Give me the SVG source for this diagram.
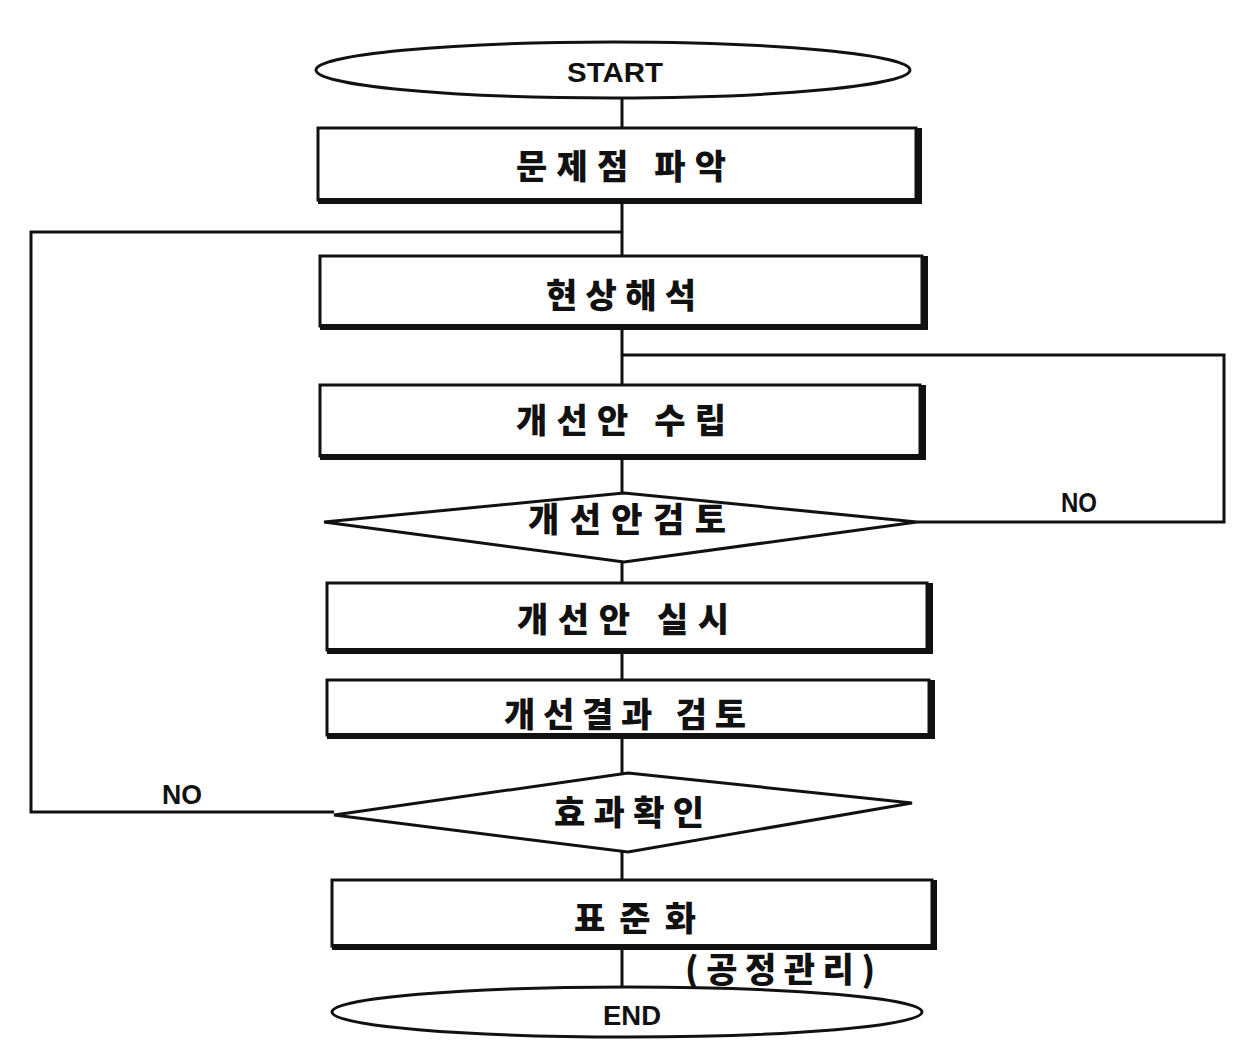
<svg xmlns="http://www.w3.org/2000/svg" width="1233" height="1041" viewBox="0 0 1233 1041">
<style>
.ln{fill:none;stroke:#111;stroke-width:3}
.box{fill:#fff;stroke:#111;stroke-width:3}
.sh{fill:none;stroke:#111;stroke-width:6}
.t{font-family:"Noto Sans CJK KR","Noto Sans",sans-serif;font-weight:900;font-size:34px;fill:#111;text-anchor:middle;dominant-baseline:central}
.e{font-family:"Liberation Sans",Arial,sans-serif;font-weight:bold;font-size:28px;fill:#111;text-anchor:middle;dominant-baseline:central}
</style>
<rect width="1233" height="1041" fill="#fff"/>
<g id="connectors">
<path class="ln" d="M622 98V128M622 200V258M622 328V385M622 460V493M622 562V583M622 652V680M622 737V773M622 852V880M622 948V987"/>
<path class="ln" d="M622 232H31V812H334"/>
<path class="ln" d="M622 355H1224V522H917"/>
</g>
<g id="start"><ellipse class="box" cx="613" cy="70" rx="297" ry="28"/><text class="e" x="615" y="72" textLength="96" lengthAdjust="spacingAndGlyphs">START</text></g>
<g id="n1"><rect class="box" x="318" y="128" width="598" height="72"/><path class="sh" d="M318 201H919V128"/><text class="t" x="621" y="164" textLength="210" lengthAdjust="spacing">문제점 파악</text></g>
<g id="n2"><rect class="box" x="320" y="256" width="602" height="70"/><path class="sh" d="M320 327H925V256"/><text class="t" x="621" y="293" textLength="150" lengthAdjust="spacing">현상해석</text></g>
<g id="n3"><rect class="box" x="320" y="385" width="600" height="71"/><path class="sh" d="M320 457H923V385"/><text class="t" x="621" y="418" textLength="210" lengthAdjust="spacing">개선안 수립</text></g>
<g id="d1"><polygon class="box" points="624,493 917,522 624,562 324,522"/><text class="t" x="627" y="517" textLength="198" lengthAdjust="spacing">개선안검토</text></g>
<g id="n4"><rect class="box" x="327" y="583" width="600" height="67"/><path class="sh" d="M327 651H930V583"/><text class="t" x="623" y="617" textLength="212" lengthAdjust="spacing">개선안 실시</text></g>
<g id="n5"><rect class="box" x="327" y="680" width="602" height="55"/><path class="sh" d="M327 736H932V680"/><text class="t" x="625" y="712" textLength="242" lengthAdjust="spacing">개선결과 검토</text></g>
<g id="d2"><polygon class="box" points="628,773 912,803 628,852 334,815"/><text class="t" x="629" y="810" textLength="150" lengthAdjust="spacing">효과확인</text></g>
<g id="n6"><rect class="box" x="332" y="880" width="600" height="66"/><path class="sh" d="M332 947H934V880"/><text class="t" x="635" y="916" textLength="122" lengthAdjust="spacing">표준화</text></g>
<g id="end"><ellipse class="box" cx="627" cy="1012" rx="295" ry="25"/><text class="e" x="632" y="1015" textLength="58" lengthAdjust="spacingAndGlyphs">END</text></g>
<text class="e" x="1079" y="502" textLength="36" lengthAdjust="spacingAndGlyphs">NO</text>
<text class="e" x="182" y="794" textLength="40" lengthAdjust="spacingAndGlyphs">NO</text>
<text class="t" x="780" y="967" textLength="190" lengthAdjust="spacing">(공정관리)</text>
</svg>
